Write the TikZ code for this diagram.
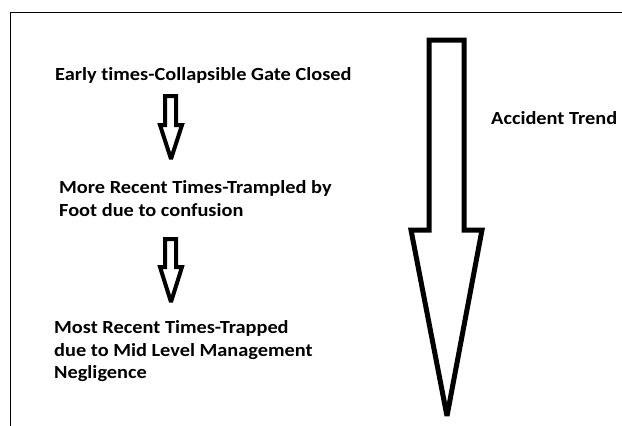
\documentclass[tikz,border=0pt]{standalone}
\usepackage{fontspec}
\setmainfont{Carlito}[Ligatures={NoCommon},FakeStretch=1.1]
\begin{document}
\begin{tikzpicture}[x=1pt,y=-1pt,
  label/.style={anchor=base west,inner sep=0pt,font=\fontsize{18.5}{23}\selectfont\bfseries},
  bigarrow/.style={draw=black,line width=5pt,miter limit=2},
  smallarrow/.style={draw=black,line width=4pt,miter limit=2}]
\useasboundingbox (0,0) rectangle (622,426);
% frame edges
\draw[line width=1pt] (10,426) -- (10,12) -- (622,12);
% stage labels
\node[label] (early) at (55,80) {Early times-Collapsible Gate Closed};
\node[label] (more1) at (59,193) {More Recent Times-Trampled by};
\node[label] (more2) at (59,216) {Foot due to confusion};
\node[label] (most1) at (54,333) {Most Recent Times-Trapped};
\node[label] (most2) at (54,356) {due to Mid Level Management};
\node[label] (most3) at (54,378) {Negligence};
\node[label] (trend) at (491,124) {Accident Trend};
% small block arrows between stages
\draw[smallarrow] (165,96) -- (176,96) -- (176,125) -- (182,125) -- (171,159) -- (160,125) -- (165,125) -- cycle;
\draw[smallarrow] (165,239) -- (176,239) -- (176,267) -- (182,267) -- (171,302) -- (160,267) -- (165,267) -- cycle;
% large trend arrow
\draw[bigarrow] (429,40) -- (464,40) -- (464,230) -- (482,230) -- (447,416) -- (411,230) -- (429,230) -- cycle;
\end{tikzpicture}
\end{document}
